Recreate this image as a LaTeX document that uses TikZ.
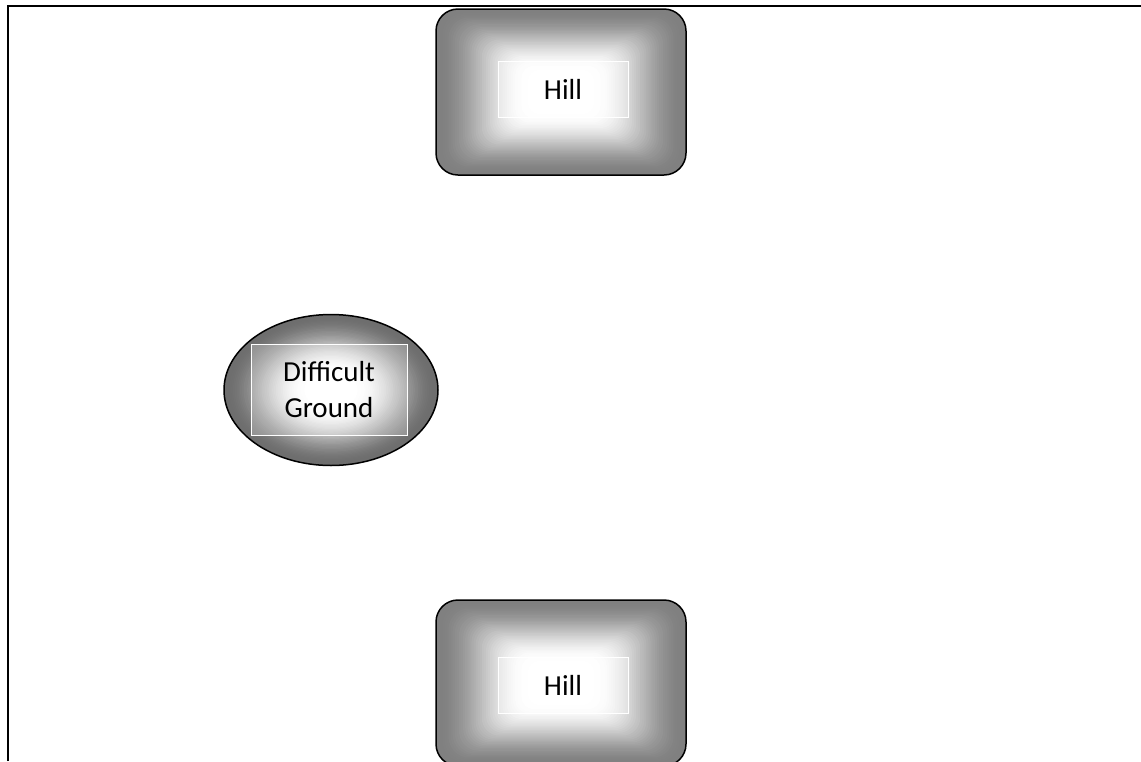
\documentclass[tikz,border=0pt]{standalone}
\usepackage{fontspec}
\setmainfont{Carlito}
\usetikzlibrary{calc,shapes.geometric}
\tikzset{
  outline/.style={draw=black, line width=1.5pt},
  hillbox/.style={outline, rectangle, rounded corners=22pt, minimum width=250pt, minimum height=166pt, inner sep=0pt},
  groundbox/.style={outline, ellipse, minimum width=214pt, minimum height=151pt, inner sep=0pt},
  label/.style={draw=white, line width=0.8pt, fill=white, fill opacity=0.25, text opacity=1, text=black,
    align=center, font=\fontsize{29}{35.5}\selectfont, inner sep=0pt},
  frame/.style={line width=2.2pt, black}
}
\newcommand\hillshade[1]{%
  \foreach \k in {0,...,59}{%
    \pgfmathsetmacro\s{1-\k/60}%
    \pgfmathsetmacro\r{min(22*sqrt(\s),83*\s)}%
    \pgfmathsetmacro\t{min(1,\k/(0.72*60))}%
    \pgfmathtruncatemacro\c{100*(3*\t*\t-2*\t*\t*\t)}%
    \fill[white!\c!black!50, rounded corners=\r pt] ($(#1)+(-125*\s,-83*\s)$) rectangle ($(#1)+(125*\s,83*\s)$);
  }}
\newcommand\groundshade[1]{%
  \foreach \k in {0,...,59}{%
    \pgfmathsetmacro\s{1-\k/60}%
    \pgfmathsetmacro\t{min(1,\k/(0.75*60))}%
    \pgfmathtruncatemacro\c{100*(3*\t*\t-2*\t*\t*\t)}%
    \fill[white!\c!black!57] (#1) ellipse [x radius=107*\s, y radius=75.5*\s];
  }}
\begin{document}
\begin{tikzpicture}[x=1pt, y=-1pt]
\useasboundingbox (0,0) rectangle (1141,761);
% frame
\coordinate (fl) at (8,761);
\coordinate (ft) at (8,6);
\coordinate (fr) at (1141,6);
\draw[frame] (fl) -- (ft) -- (fr);
% top hill
\coordinate (c1) at (561,92);
\hillshade{c1}
\node[hillbox] (hill1) at (c1) {};
\node[label, minimum width=130pt, minimum height=56pt] (t1) at (563,89) {Hill};
% bottom hill
\coordinate (c2) at (561,683);
\hillshade{c2}
\node[hillbox] (hill2) at (c2) {};
\node[label, minimum width=130pt, minimum height=56pt] (t2) at (563,685) {Hill};
% difficult ground
\coordinate (c3) at (331,390);
\groundshade{c3}
\node[groundbox] (ground) at (c3) {};
\node[label, minimum width=156pt, minimum height=91pt] (t3) at (329,389.5) {Difficult\\Ground};
\end{tikzpicture}
\end{document}
